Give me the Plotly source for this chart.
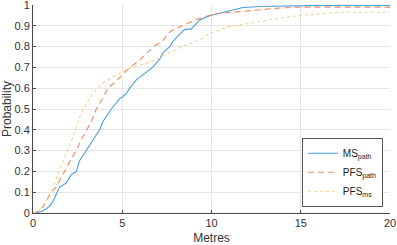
import plotly.graph_objects as go

# MS_path
ms_x = [0, 0.2, 0.5, 0.75, 1.0, 1.2, 1.35, 1.5, 1.6, 1.87, 2.15, 2.43, 2.6, 2.99, 3.36, 3.55, 3.73, 3.92,
        4.39, 4.86, 5.04, 5.23, 5.42, 5.79, 6.16, 6.7, 7.1, 7.28, 7.66, 7.84, 8.22, 8.5, 8.87, 9.34, 9.9,
        10.45, 11.2, 11.76, 12.7, 14.75, 16.06, 20]
ms_y = [0, 0, 0.008, 0.02, 0.04, 0.07, 0.1, 0.125, 0.13, 0.145, 0.185, 0.2, 0.25, 0.3, 0.35, 0.375, 0.40, 0.44,
        0.5, 0.55, 0.56, 0.575, 0.6, 0.64, 0.665, 0.7, 0.74, 0.77, 0.8, 0.825, 0.86, 0.883, 0.885, 0.928, 0.948,
        0.96, 0.976, 0.988, 0.993, 0.995, 0.998, 0.998]

# PFS_path
pp_x = [0, 0.3, 0.56, 0.94, 1.31, 1.68, 2.06, 2.43, 2.8, 3.27, 3.55, 3.9, 4.2, 4.67, 5.04, 5.42, 5.98, 6.35,
        6.91, 7.28, 7.66, 7.84, 8.6, 9.15, 9.9, 10.45, 11.2, 12.1, 13.6, 14.75, 20]
pp_y = [0, 0.01, 0.03, 0.087, 0.127, 0.19, 0.247, 0.303, 0.367, 0.44, 0.5, 0.55, 0.6, 0.635, 0.665, 0.7,
        0.735, 0.768, 0.808, 0.83, 0.87, 0.88, 0.91, 0.93, 0.95, 0.96, 0.965, 0.973, 0.984, 0.99, 0.99]

# PFS_ms
pm_x = [0, 0.2, 0.37, 0.56, 0.75, 1.12, 1.5, 1.87, 2.24, 2.52, 2.62, 2.99, 3.36, 3.92, 4.48, 5.04, 5.5,
        6.35, 7.1, 7.47, 8.22, 9.34, 9.9, 11.0, 12.1, 13.25, 14.37, 15.7, 17.2, 20]
pm_y = [0, 0.005, 0.014, 0.04, 0.06, 0.127, 0.205, 0.287, 0.367, 0.44, 0.463, 0.527, 0.575, 0.624, 0.655,
        0.68, 0.7, 0.72, 0.745, 0.765, 0.795, 0.832, 0.864, 0.896, 0.912, 0.928, 0.944, 0.955, 0.965, 0.965]

x_ticks = [0, 5, 10, 15, 20]
y_ticks = [0, 0.1, 0.2, 0.3, 0.4, 0.5, 0.6, 0.7, 0.8, 0.9, 1]
y_ticklabels = ["0", "0.1", "0.2", "0.3", "0.4", "0.5", "0.6", "0.7", "0.8", "0.9", "1"]

FONT = "Liberation Sans, Arial"

fig = go.Figure()
fig.add_trace(go.Scatter(x=ms_x, y=ms_y, mode="lines", name="MS<sub>path</sub>",
                         line=dict(color="#4a9fdb", width=1.1)))
fig.add_trace(go.Scatter(x=pp_x, y=pp_y, mode="lines", name="PFS<sub>path</sub>",
                         line=dict(color="#ea8a5e", width=1.1, dash="6px,4px")))
fig.add_trace(go.Scatter(x=pm_x, y=pm_y, mode="lines", name="PFS<sub>ms</sub>",
                         line=dict(color="#f5d187", width=1.1, dash="dot")))

axis_common = dict(showgrid=True, gridcolor="#e6e6e6", gridwidth=1, zeroline=False,
                   showline=True, linecolor="#4a4a4a", linewidth=1,
                   ticks="inside", ticklen=3, tickcolor="#4a4a4a", automargin=False,
                   ticklabeloverflow="allow",
                   tickfont=dict(family=FONT, size=11, color="#333333"))

fig.update_xaxes(range=[0, 20], tickvals=x_ticks, **axis_common,
                 title=dict(text="Metres", font=dict(family=FONT, size=12, color="#333333"), standoff=6))
fig.update_yaxes(range=[0, 1], tickvals=y_ticks, ticktext=y_ticklabels, **axis_common,
                 title=dict(text="Probability", font=dict(family=FONT, size=12, color="#333333"), standoff=1))

fig.update_layout(
    width=397, height=245,
    margin=dict(l=33, r=7, t=5, b=32, autoexpand=False),
    paper_bgcolor="white", plot_bgcolor="white",
    showlegend=True,
    legend=dict(x=0.98, y=0.03, xanchor="right", yanchor="bottom",
                bgcolor="white", bordercolor="#555555", borderwidth=1,
                font=dict(family=FONT, size=10, color="#222222"),
                itemwidth=30, tracegroupgap=0),
)

fig.write_html("out.html", config={"displayModeBar": False})

# remove the default page margin so the figure sits at the window's top-left corner
with open("out.html", "r", encoding="utf-8") as f:
    html = f.read()
html = html.replace("<head>", "<head><style>html,body{margin:0;padding:0;overflow:hidden;}</style>", 1)
with open("out.html", "w", encoding="utf-8") as f:
    f.write(html)
